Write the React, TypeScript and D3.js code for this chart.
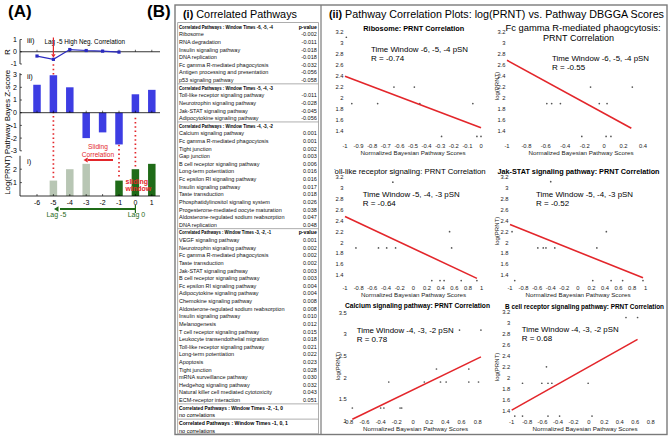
import React from "react";
import * as d3 from "d3";

const FONT = "'Liberation Sans', Arial, Helvetica, sans-serif";

// ---------------- Panel A data ----------------
const lagTicks = [-6, -5, -4, -3, -2, -1, 0, 1];
const rLags = [-6, -5, -4, -3, -2, -1];
const rValues = [-0.35, -0.62, 0.18, 0.1, 0.05, -0.03];
const zLags = [-6, -5, -4, -3, -2, -1, 0, 1];
const zScores = [2.2, 2.95, 2.0, -2.0, -1.55, -2.5, 1.45, 1.8];
const prntLags = [-5, -4, -3, -1, 0, 1];
const prntValues = [1.15, 2.0, 2.4, 1.15, 2.0, 2.4];
const rTicks = [1, 0, -1];
const zTicks = [3, 2, 1, 0, -1, -2, -3];
const prntTicks = [1, 2];

// ---------------- Table data ----------------
const sectionTitles = [
  "Correlated Pathways : Window Times -6, -5, -4",
  "Correlated Pathways : Window Times -5, -4, -3",
  "Correlated Pathways : Window Times -4, -3, -2",
  "Correlated Pathways : Window Times -3, -2, -1",
  "Correlated Pathways : Window Times -2, -1, 0",
  "Correlated Pathways : Window Times -1, 0, 1",
];
const sectionShowP = [true, false, false, true, false, false];
const sec1Pathways = ["Ribosome", "RNA degradation", "Insulin signaling pathway", "DNA replication", "Fc gamma R-mediated phagocytosis", "Antigen processing and presentation", "p53 signaling pathway"];
const sec1PValues = [-0.002, -0.011, -0.018, -0.018, -0.032, -0.056, -0.058];
const sec2Pathways = ["Toll-like receptor signaling pathway", "Neurotrophin signaling pathway", "Jak-STAT signaling pathway", "Adipocytokine signaling pathway"];
const sec2PValues = [-0.011, -0.028, -0.045, -0.056];
const sec3Pathways = ["Calcium signaling pathway", "Fc gamma R-mediated phagocytosis", "Tight junction", "Gap junction", "B cell receptor signaling pathway", "Long-term potentiation", "Fc epsilon RI signaling pathway", "Insulin signaling pathway", "Taste transduction", "Phosphatidylinositol signaling system", "Progesterone-mediated oocyte maturation", "Aldosterone-regulated sodium reabsorption", "DNA replication"];
const sec3PValues = [0.001, 0.001, 0.002, 0.003, 0.006, 0.016, 0.016, 0.017, 0.018, 0.026, 0.038, 0.047, 0.048];
const sec4Pathways = ["VEGF signaling pathway", "Neurotrophin signaling pathway", "Fc gamma R-mediated phagocytosis", "Taste transduction", "Jak-STAT signaling pathway", "B cell receptor signaling pathway", "Fc epsilon RI signaling pathway", "Adipocytokine signaling pathway", "Chemokine signaling pathway", "Aldosterone-regulated sodium reabsorption", "Insulin signaling pathway", "Melanogenesis", "T cell receptor signaling pathway", "Leukocyte transendothelial migration", "Toll-like receptor signaling pathway", "Long-term potentiation", "Apoptosis", "Tight junction", "mRNA surveillance pathway", "Hedgehog signaling pathway", "Natural killer cell mediated cytotoxicity", "ECM-receptor interaction"];
const sec4PValues = [0.001, 0.002, 0.002, 0.002, 0.003, 0.003, 0.004, 0.004, 0.008, 0.008, 0.010, 0.012, 0.015, 0.018, 0.021, 0.022, 0.023, 0.028, 0.030, 0.032, 0.043, 0.051];
const sec5Pathways: string[] = [];
const sec5PValues: number[] = [];
const sec6Pathways: string[] = [];
const sec6PValues: number[] = [];

// ---------------- Scatter data ----------------
const ribosomeX = [-0.99, -0.95, -0.76, -0.64, -0.49, -0.45, -0.29, -0.06, -0.03, 0.0];
const ribosomeY = [3.11, 1.9, 1.9, 2.2, 2.2, 1.9, 1.3, 1.9, 1.3, 1.3];
const ribosomeFitX = [-1, 0];
const ribosomeFitY = [2.4, 1.46];

const fcGammaX = [-0.59, -0.54, -0.45, -0.14, -0.23, -0.05, 0.03, 0.02, 0.07, 0.29];
const fcGammaY = [1.9, 1.9, 1.9, 2.2, 1.3, 1.9, 1.9, 1.3, 1.3, 2.2];
const fcGammaFitX = [-1, 0.28];
const fcGammaFitY = [2.69, 1.45];

const tollX = [-0.3, -0.84, -0.51, -0.39, -0.26, 0.53, 0.56, 0.27, 0.39, 0.45, 0.7, 0.93];
const tollY = [3.11, 1.9, 1.9, 1.9, 1.9, 2.2, 1.9, 1.3, 1.3, 1.3, 1.3, 1.3];
const tollFitX = [-1, 0.93];
const tollFitY = [2.48, 1.34];

const jakX = [-0.4, -0.97, 0.42, -0.59, -0.51, -0.47, -0.34, 0.28, -0.93, 0.22, 0.49, 0.66, 0.96];
const jakY = [3.12, 2.2, 2.2, 1.9, 1.9, 1.9, 1.9, 1.9, 1.3, 1.3, 1.3, 1.3, 1.3];
const jakFitX = [-1, 0.96];
const jakFitY = [2.33, 1.35];

const calciumX = [0.575, 0.84, 0.29, 0.69, -0.3, 0.14, 0.34, 0.41, 0.69, 0.81, -0.75, -0.4, -0.36, -0.16, -0.14];
const calciumY = [3.1, 3.1, 2.2, 2.2, 1.9, 1.9, 1.9, 1.9, 1.9, 1.9, 1.3, 1.3, 1.3, 1.3, 1.3];
const calciumFitX = [-0.75, 0.84];
const calciumFitY = [1.04, 2.48];

const bcellX = [0.48, 0.63, -0.55, -0.86, -0.61, -0.53, -0.48, -0.01, -0.96, -0.86, -0.53, -0.38, 0.04];
const bcellY = [3.1, 3.1, 2.2, 1.9, 1.9, 1.9, 1.9, 1.9, 1.3, 1.3, 1.3, 1.3, 1.3];
const bcellFitX = [-1, 0.63];
const bcellFitY = [1.41, 2.7];

const yTicks12 = [1.4, 1.6, 1.8, 2, 2.2, 2.4, 2.6, 2.8, 3, 3.2];
const xTicksRibo = [-1, -0.9, -0.8, -0.7, -0.6, -0.5, -0.4, -0.3, -0.2, -0.1, 0];
const xTicksFc = [-1, -0.8, -0.6, -0.4, -0.2, 0, 0.2, 0.4];
const xTicksFull = [-1, -0.8, -0.6, -0.4, -0.2, 0, 0.2, 0.4, 0.6, 0.8, 1];
const xTicksCalcium = [-0.8, -0.6, -0.4, -0.2, 0, 0.2, 0.4, 0.6, 0.8];
const yTicksCalcium = [1, 1.5, 2, 2.5, 3, 3.5];
const xTicksBcell = [-1, -0.8, -0.6, -0.4, -0.2, 0, 0.2, 0.4, 0.6, 0.8];

const RED = "#e3262b";
const BLUE = "#3d3de3";
const DARKGREEN = "#1f6b18";
const LIGHTGREEN = "#b8c6b4";

function arrowHead(x: number, y: number, dir: "left" | "down", size: number) {
  if (dir === "left") return `M${x},${y} L${x + size * 1.6},${y - size} L${x + size * 1.6},${y + size} Z`;
  return `M${x},${y} L${x - size},${y - size * 1.6} L${x + size},${y - size * 1.6} Z`;
}

function PanelA() {
  const x = d3.scaleLinear().domain([-6, 1]).range([37, 151.8]);
  const rY = d3.scaleLinear().domain([-1, 1]).range([64, 39.5]);
  const zY = d3.scaleLinear().domain([-3, 3]).range([150.8, 74.6]);
  const pY = d3.scaleLinear().domain([0, 3]).range([196, 155.8]);
  const bw = 7.5;
  const rLine = d3.line<number>().x((_, i) => x(rLags[i])).y((d) => rY(d));
  const axX = 20;
  const right = 160;
  const dot = { stroke: RED, strokeWidth: 1.7, strokeDasharray: "1.5 2.8" };
  const rAtM5 = rValues[rLags.indexOf(-5)];
  return (
    <g fontFamily={FONT}>
      <text x={8} y={16.5} fontSize={17} fontWeight="bold">(A)</text>
      <text transform={`translate(10,52) rotate(-90)`} fontSize={8} textAnchor="middle">R</text>
      <text transform={`translate(10,112) rotate(-90)`} fontSize={8} textAnchor="middle">Pathway Bayes Z-score</text>
      <text transform={`translate(10,175) rotate(-90)`} fontSize={7.8} textAnchor="middle">Log(PRNT)</text>
      <line x1={x(-5)} x2={x(-5)} y1={rY(rAtM5) + 5} y2={pY(prntValues[0]) - 2} {...dot} />
      <line x1={x(-1)} x2={x(-1)} y1={zY(0) + 2} y2={pY(prntValues[3]) - 2} {...dot} />
      <line x1={x(0)} x2={x(0)} y1={zY(0) + 5} y2={pY(prntValues[4]) - 2} {...dot} />
      <line x1={axX} x2={axX} y1={rY(1)} y2={rY(-1)} stroke="#000" strokeWidth={0.8} />
      <line x1={axX} x2={right} y1={rY(0)} y2={rY(0)} stroke="#000" strokeWidth={0.8} />
      {rTicks.map((t) => (
        <g key={"rt" + t}>
          <line x1={axX} x2={axX + 2} y1={rY(t)} y2={rY(t)} stroke="#000" strokeWidth={0.6} />
          <text x={axX - 3} y={rY(t) + 2.4} fontSize={7} textAnchor="end">{t}</text>
        </g>
      ))}
      {lagTicks.map((l) => (
        <line key={"rl" + l} x1={x(l)} x2={x(l)} y1={rY(0)} y2={rY(0) - 2} stroke="#000" strokeWidth={0.6} />
      ))}
      <path d={rLine(rValues) || ""} fill="none" stroke="#2a2ac0" strokeWidth={1.2} />
      {rValues.map((v, i) => (
        <rect key={"rp" + i} x={x(rLags[i]) - 1.6} y={rY(v) - 1.6} width={3.2} height={3.2} fill="#2a2ac0" />
      ))}
      <text x={27} y={43} fontSize={7.5}>iii)</text>
      <text x={44.5} y={44} fontSize={6.4} textLength={80.5} lengthAdjust="spacingAndGlyphs">Lag -5 High Neg. Correlation</text>
      <line x1={x(-5)} x2={x(-5)} y1={37.5} y2={rY(rAtM5) - 5} stroke={RED} strokeWidth={1.2} />
      <path d={arrowHead(x(-5), rY(rAtM5) - 1.5, "down", 2.2)} fill={RED} />
      <line x1={axX} x2={axX} y1={zY(3) - 1.5} y2={zY(-3)} stroke="#000" strokeWidth={0.8} />
      {zTicks.map((t) => (
        <g key={"zt" + t}>
          <line x1={axX} x2={axX + 2} y1={zY(t)} y2={zY(t)} stroke="#000" strokeWidth={0.6} />
          <text x={axX - 3} y={zY(t) + 2.4} fontSize={7} textAnchor="end">{t}</text>
        </g>
      ))}
      {zScores.map((v, i) => (
        <rect key={"zb" + i} x={x(zLags[i]) - bw / 2} width={bw} y={Math.min(zY(v), zY(0))} height={Math.abs(zY(v) - zY(0))} fill={BLUE} />
      ))}
      <line x1={axX} x2={right} y1={zY(0)} y2={zY(0)} stroke="#000" strokeWidth={0.8} />
      {lagTicks.map((l) => (
        <line key={"zl" + l} x1={x(l)} x2={x(l)} y1={zY(0)} y2={zY(0) - 2} stroke="#000" strokeWidth={0.6} />
      ))}
      <text x={27} y={79} fontSize={7.5}>ii)</text>
      <line x1={axX} x2={axX} y1={pY(3)} y2={pY(0)} stroke="#000" strokeWidth={0.8} />
      {prntTicks.map((t) => (
        <g key={"pt" + t}>
          <line x1={axX} x2={axX + 2} y1={pY(t)} y2={pY(t)} stroke="#000" strokeWidth={0.6} />
          <text x={axX - 3} y={pY(t) + 2.4} fontSize={7} textAnchor="end">{t}</text>
        </g>
      ))}
      {prntValues.map((v, i) => (
        <rect key={"pb" + i} x={x(prntLags[i]) - bw / 2} width={bw} y={pY(v)} height={pY(0) - pY(v)} fill={prntLags[i] >= -1 ? DARKGREEN : LIGHTGREEN} />
      ))}
      <line x1={axX} x2={right} y1={pY(0)} y2={pY(0)} stroke="#000" strokeWidth={0.8} />
      {lagTicks.map((l) => (
        <g key={"pl" + l}>
          <line x1={x(l)} x2={x(l)} y1={pY(0)} y2={pY(0) - 2} stroke="#000" strokeWidth={0.6} />
          <text x={x(l)} y={205} fontSize={7} textAnchor="middle">{l}</text>
        </g>
      ))}
      <text x={27} y={164} fontSize={7.5}>i)</text>
      <text x={98} y={149} fontSize={6.6} fill={RED} textAnchor="middle">Sliding</text>
      <text x={98} y={156.5} fontSize={6.6} fill={RED} textAnchor="middle">Correlation</text>
      <line x1={113} x2={88} y1={160} y2={160} stroke={RED} strokeWidth={2} />
      <path d={arrowHead(83.5, 160, "left", 2.6)} fill={RED} />
      <text x={125.5} y={184} fontSize={7} fontWeight="bold" fill={RED}>sliding</text>
      <text x={125.5} y={191} fontSize={7} fontWeight="bold" fill={RED}>window</text>
      <line x1={x(0)} x2={60} y1={209} y2={209} stroke={DARKGREEN} strokeWidth={1.8} />
      <line x1={x(0)} x2={x(0)} y1={205} y2={213} stroke={DARKGREEN} strokeWidth={1.2} />
      <path d={arrowHead(54, 209, "left", 2.8)} fill={DARKGREEN} />
      <text x={x(-5) + 3} y={217} fontSize={7} fill={DARKGREEN} textAnchor="middle">Lag -5</text>
      <text x={x(0) + 1} y={217} fontSize={7} fill={DARKGREEN} textAnchor="middle">Lag 0</text>
    </g>
  );
}

const headerLens = [94, 94, 94, 92, 104, 109];

function TablePanel() {
  const sections = [
    { title: sectionTitles[0], names: sec1Pathways, pv: sec1PValues },
    { title: sectionTitles[1], names: sec2Pathways, pv: sec2PValues },
    { title: sectionTitles[2], names: sec3Pathways, pv: sec3PValues },
    { title: sectionTitles[3], names: sec4Pathways, pv: sec4PValues },
    { title: sectionTitles[4], names: sec5Pathways, pv: sec5PValues },
    { title: sectionTitles[5], names: sec6Pathways, pv: sec6PValues },
  ];
  const step = 7.62;
  const y0 = 26.7;
  const lines: any[] = [];
  const seps: number[] = [];
  let i = 0;
  sections.forEach((s, si) => {
    if (si > 0) seps.push(y0 + i * step - step / 2);
    lines.push({ kind: "h", text: s.title, showP: sectionShowP[si], idx: i, len: headerLens[si] });
    i++;
    if (s.names.length === 0) {
      lines.push({ kind: "none", idx: i });
      i++;
    }
    s.names.forEach((n, k) => {
      lines.push({ kind: "r", text: n, p: s.pv[k], idx: i });
      i++;
    });
  });
  const L = 179;
  const R = 316.8;
  return (
    <g fontFamily={FONT}>
      <text x={147} y={16.5} fontSize={17} fontWeight="bold">(B)</text>
      <rect x={175} y={5} width={492} height={429.5} fill="none" stroke="#7a7a7a" strokeWidth={1.4} />
      <line x1={321} x2={321} y1={5} y2={434.5} stroke="#7a7a7a" strokeWidth={1.2} />
      <text x={183} y={18} fontSize={10.5} textLength={114} lengthAdjust="spacingAndGlyphs">
        <tspan fontWeight="bold">(i)</tspan> Correlated Pathways
      </text>
      <rect x={177.7} y={22.6} width={140.8} height={411.2} fill="none" stroke="#9a9a9a" strokeWidth={0.8} />
      {seps.map((s, k) => (
        <line key={"sep" + k} x1={177.7} x2={318.5} y1={s} y2={s} stroke="#9a9a9a" strokeWidth={0.8} />
      ))}
      {lines.map((ln, k) => {
        const y = y0 + ln.idx * step + 2;
        if (ln.kind === "h")
          return (
            <g key={k}>
              <text x={L} y={y} fontSize={5.2} fontWeight="bold" textLength={ln.len} lengthAdjust="spacingAndGlyphs">{ln.text}</text>
              {ln.showP && <text x={R} y={y} fontSize={5.2} fontWeight="bold" textAnchor="end">p-value</text>}
            </g>
          );
        if (ln.kind === "none")
          return <text key={k} x={L} y={y} fontSize={5.5}>no correlations</text>;
        return (
          <g key={k}>
            <text x={L} y={y} fontSize={5.5} fill="#111">{ln.text}</text>
            <text x={R} y={y} fontSize={5.5} textAnchor="end" fill="#111">{ln.p.toFixed(3)}</text>
          </g>
        );
      })}
    </g>
  );
}

type PlotCfg = {
  xs: number[]; ys: number[]; fitX: number[]; fitY: number[];
  xDomain: number[]; xRange: number[]; yDomain: number[]; yRange: number[];
  xTicks: number[]; yTicks: number[];
  titles: { t: string; x: number; y: number; len: number; bold: boolean; size: number }[];
  ann: { l1: string; l2: string; x: number; y: number };
  tickY: number; xlabel: { x: number; y: number }; ylabel?: { x: number; y: number };
  clip?: boolean;
};

const plots: PlotCfg[] = [
  {
    xs: ribosomeX, ys: ribosomeY, fitX: ribosomeFitX, fitY: ribosomeFitY,
    xDomain: [-1, 0], xRange: [345, 481], yDomain: [1.2, 3.2], yRange: [141.9, 32.3],
    xTicks: xTicksRibo, yTicks: yTicks12,
    titles: [{ t: "Ribosome: PRNT Correlation", x: 413.8, y: 30.8, len: 101, bold: true, size: 7.2 }],
    ann: { l1: "Time Window -6, -5, -4 pSN", l2: "R = -0.74", x: 371, y: 52 },
    tickY: 147.5, xlabel: { x: 413, y: 154.5 }, ylabel: { x: 333, y: 87 }, clip: true,
  },
  {
    xs: fcGammaX, ys: fcGammaY, fitX: fcGammaFitX, fitY: fcGammaFitY,
    xDomain: [-1, 0.4], xRange: [507, 643], yDomain: [1.2, 3.2], yRange: [141.9, 32.3],
    xTicks: xTicksFc, yTicks: yTicks12,
    titles: [
      { t: "Fc gamma R-mediated phaogcytosis:", x: 583, y: 31.3, len: 155, bold: false, size: 9 },
      { t: "PRNT Correlation", x: 578.5, y: 41.3, len: 71, bold: false, size: 9 },
    ],
    ann: { l1: "Time Window -6, -5, -4 pSN", l2: "R = -0.55", x: 552, y: 61.3 },
    tickY: 147.5, xlabel: { x: 581, y: 154.5 }, ylabel: { x: 499, y: 86 },
  },
  {
    xs: tollX, ys: tollY, fitX: tollFitX, fitY: tollFitY,
    xDomain: [-1, 1], xRange: [345, 481.7], yDomain: [1.2, 3.2], yRange: [286, 177.3],
    xTicks: xTicksFull, yTicks: yTicks12,
    titles: [{ t: "Toll-like receptor signaling: PRNT Correlation", x: 408.2, y: 173.7, len: 155, bold: false, size: 7.7 }],
    ann: { l1: "Time Window -5, -4, -3 pSN", l2: "R = -0.64", x: 362.7, y: 197 },
    tickY: 290, xlabel: { x: 413.5, y: 297 }, ylabel: { x: 333, y: 231 }, clip: true,
  },
  {
    xs: jakX, ys: jakY, fitX: jakFitX, fitY: jakFitY,
    xDomain: [-1, 1], xRange: [510, 645.7], yDomain: [1.2, 3.2], yRange: [286, 177.3],
    xTicks: xTicksFull, yTicks: yTicks12,
    titles: [{ t: "Jak-STAT signaling pathway: PRNT Correlation", x: 578.5, y: 173.7, len: 162, bold: true, size: 7.2 }],
    ann: { l1: "Time Window -5, -4, -3 pSN", l2: "R = -0.52", x: 536, y: 197 },
    tickY: 290, xlabel: { x: 578, y: 297 }, ylabel: { x: 499, y: 231 },
  },
  {
    xs: calciumX, ys: calciumY, fitX: calciumFitX, fitY: calciumFitY,
    xDomain: [-0.8, 0.8], xRange: [348.3, 477.7], yDomain: [1, 3.5], yRange: [421, 312.7],
    xTicks: xTicksCalcium, yTicks: yTicksCalcium,
    titles: [{ t: "Calcium signaling pathway: PRNT Correlation", x: 417.5, y: 307.6, len: 145, bold: true, size: 6.8 }],
    ann: { l1: "Time Window -4, -3, -2 pSN", l2: "R = 0.78", x: 356.7, y: 333 },
    tickY: 424, xlabel: { x: 415.5, y: 431 }, ylabel: { x: 340, y: 366 }, clip: true,
  },
  {
    xs: bcellX, ys: bcellY, fitX: bcellFitX, fitY: bcellFitY,
    xDomain: [-1, 0.8], xRange: [511.7, 650.7], yDomain: [1.2, 3.2], yRange: [421.6, 312],
    xTicks: xTicksBcell, yTicks: yTicks12,
    titles: [{ t: "B cell receptor signaling pathway: PRNT Correlation", x: 584.5, y: 309.2, len: 159, bold: true, size: 6.6 }],
    ann: { l1: "Time Window -4, -3, -2 pSN", l2: "R = 0.68", x: 521.7, y: 332.3 },
    tickY: 424.2, xlabel: { x: 585, y: 431.2 }, ylabel: { x: 499, y: 367 },
  },
];

function Scatter({ cfg }: { cfg: PlotCfg }) {
  const x = d3.scaleLinear().domain(cfg.xDomain).range(cfg.xRange);
  const y = d3.scaleLinear().domain(cfg.yDomain).range(cfg.yRange);
  const fit = d3.line<number>().x((d) => x(d)).y((_, i) => y(cfg.fitY[i]));
  const tickFs = 5.8;
  return (
    <g fontFamily={FONT} clipPath={cfg.clip ? "url(#col1clip)" : undefined}>
      {cfg.titles.map((t, k) => (
        <text key={k} x={t.x} y={t.y} fontSize={t.size} fontWeight={t.bold ? "bold" : "normal"} textAnchor="middle" textLength={t.len} lengthAdjust="spacingAndGlyphs">{t.t}</text>
      ))}
      {cfg.yTicks.map((t) => (
        <text key={"y" + t} x={cfg.xRange[0] - 1.5} y={y(t) + 2} fontSize={tickFs} textAnchor="end" fill="#222">{String(t)}</text>
      ))}
      {cfg.xTicks.map((t) => (
        <text key={"x" + t} x={x(t)} y={cfg.tickY} fontSize={tickFs} textAnchor="middle" fill="#222">{String(t)}</text>
      ))}
      <text x={cfg.xlabel.x} y={cfg.xlabel.y} fontSize={6.2} textAnchor="middle" textLength={105} lengthAdjust="spacingAndGlyphs" fill="#222">Normalized Bayesian Pathway Scores</text>
      {cfg.ylabel && (
        <text transform={`translate(${cfg.ylabel.x},${cfg.ylabel.y}) rotate(-90)`} fontSize={6} textAnchor="middle" fill="#222">log(PRNT)</text>
      )}
      <text x={cfg.ann.x} y={cfg.ann.y} fontSize={8} textLength={97} lengthAdjust="spacingAndGlyphs">{cfg.ann.l1}</text>
      <text x={cfg.ann.x} y={cfg.ann.y + 8.6} fontSize={8}>{cfg.ann.l2}</text>
      {cfg.xs.map((v, i) => (
        <circle key={"p" + i} cx={x(v)} cy={y(cfg.ys[i])} r={0.85} fill="#555" />
      ))}
      <path d={fit(cfg.fitX) || ""} fill="none" stroke={RED} strokeWidth={1.6} />
    </g>
  );
}

function PlotsPanel() {
  return (
    <g fontFamily={FONT}>
      <defs>
        <clipPath id="col1clip">
          <rect x={334.5} y={0} width={170} height={438} />
        </clipPath>
      </defs>
      <text x={329} y={17.5} fontSize={10.2} textLength={335} lengthAdjust="spacingAndGlyphs">
        <tspan fontWeight="bold">(ii)</tspan> Pathway Correlation Plots: log(PRNT) vs. Pathway DBGGA Scores
      </text>
      {plots.map((p, i) => (
        <Scatter key={i} cfg={p} />
      ))}
    </g>
  );
}

export default function App() {
  return (
    <svg width={670} height={438} viewBox="0 0 670 438" style={{ position: "absolute", left: 0, top: 0, background: "#fff" }}>
      <rect x={0} y={0} width={670} height={438} fill="#fff" />
      <PanelA />
      <TablePanel />
      <PlotsPanel />
    </svg>
  );
}
